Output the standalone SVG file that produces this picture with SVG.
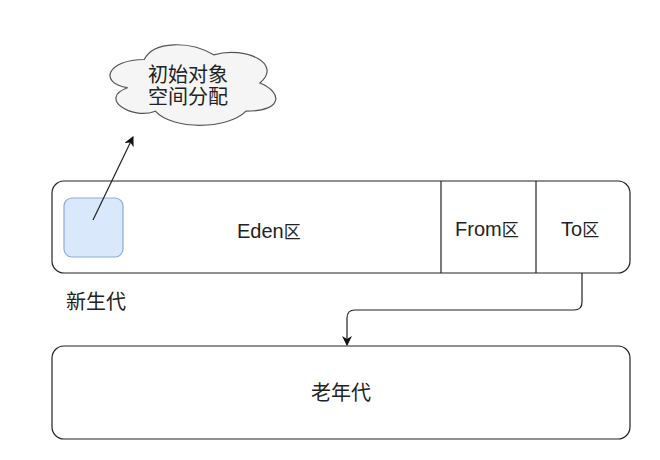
<svg xmlns="http://www.w3.org/2000/svg" width="660" height="460" viewBox="0 0 660 460">
<defs>
<style>
text{font-family:"Liberation Sans","Noto Sans CJK SC",sans-serif;font-size:20px;fill:#222;}
.cjk{font-size:17px;}
.box{fill:#fff;stroke:#222;stroke-width:1.2;}
.line{fill:none;stroke:#222;stroke-width:1.2;}
</style>
<marker id="arr" markerWidth="10" markerHeight="10" refX="9" refY="5" orient="auto" markerUnits="userSpaceOnUse">
<path d="M0,0 L10,5 L0,10 L3,5 Z" fill="#111"/>
</marker>
</defs>
<rect width="660" height="460" fill="#fff"/>
<g id="young">
<rect class="box" x="52" y="181" width="578" height="92" rx="12"/>
<line class="line" x1="441" y1="181" x2="441" y2="273"/>
<line class="line" x1="536" y1="181" x2="536" y2="273"/>
<text x="237" y="238">Eden<tspan class="cjk">区</tspan></text>
<text x="455" y="236">From<tspan class="cjk">区</tspan></text>
<text x="561" y="236">To<tspan class="cjk">区</tspan></text>
</g>
<g id="obj">
<rect x="64" y="198" width="59" height="59" rx="8" fill="#dae8fc" stroke="#8eaadb" stroke-width="1.2"/>
</g>
<g id="young-label">
<text x="66" y="309" font-size="18">新生代</text>
</g>
<g id="cloud">
<path transform="translate(98,36)" d="M46.25 23.5 C9.25 23.5 0 47 29.6 51.7 C0 62 33.3 84.6 57.35 75.2 C74 94 129.5 94 148 75.2 C185 75.2 185 56.4 161.9 47 C185 28.2 148 9.4 115.6 18.8 C92.5 4.7 55.5 4.7 46.25 23.5 Z" fill="#f5f5f5" stroke="#555" stroke-width="1.2"/>
<text x="188" y="82" text-anchor="middle" font-size="17">初始对象</text>
<text x="188" y="104" text-anchor="middle" font-size="17">空间分配</text>
</g>
<g id="old">
<rect class="box" x="52" y="346" width="578" height="93" rx="12"/>
<text x="341" y="400" text-anchor="middle">老年代</text>
</g>
<g id="connectors">
<line class="line" x1="93" y1="220" x2="133" y2="137" marker-end="url(#arr)"/>
<path class="line" d="M582 273 V302 Q582 310 574 310 H355 Q347 310 347 318 V345" marker-end="url(#arr)"/>
</g>
</svg>
